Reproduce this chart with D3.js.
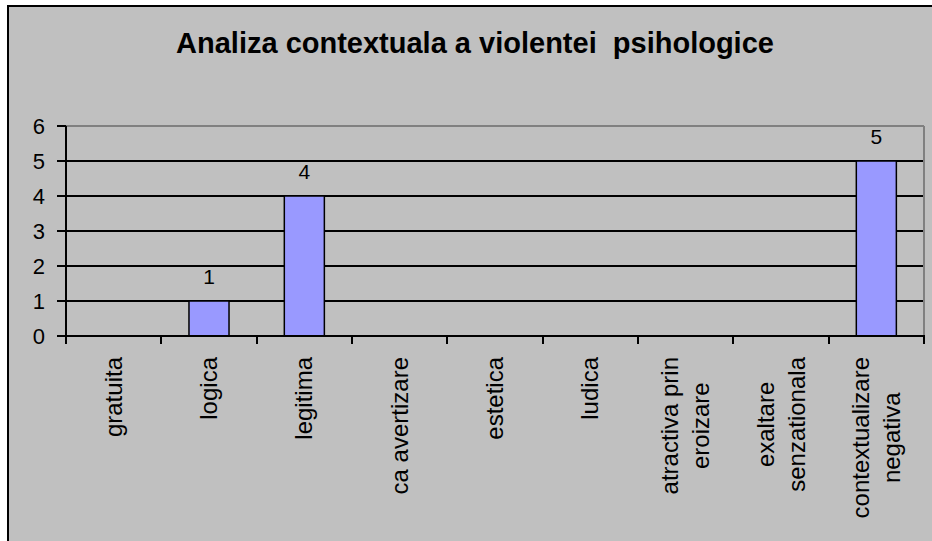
<!DOCTYPE html>
<html lang="ro">
<head>
  <meta charset="UTF-8">
  <title>Analiza contextuala a violentei psihologice</title>
  <script src="https://cdn.jsdelivr.net/npm/d3@7"></script>
</head>

<style>
body { margin: 0; background: #fff; }
svg { display: block; font-family: Arial, "Liberation Sans", sans-serif; }
line { shape-rendering: crispEdges; }
</style>

<body>
  <svg width="932" height="541"></svg>

  <script>
    // values
    var categories = ["gratuita", "logica", "legitima", "ca avertizare", "estetica", "ludica",
                      "atractiva prin\neroizare", "exaltare\nsenzationala", "contextualizare\nnegativa"]
    var values = [0, 1, 4, 0, 0, 0, 0, 0, 5]
    var yTicks = [0, 1, 2, 3, 4, 5, 6]
    var title = "Analiza contextuala a violentei  psihologice"

    var bars = categories.map((c, i) => ({cat: c, value: values[i]}))
      .filter(d => d.value > 0)

    var svg = d3.select('svg')

    // grey chart area with black frame (left + top visible)
    svg.append('rect')
      .attr('x', 8).attr('y', 6)
      .attr('width', 1000).attr('height', 1000)
      .attr('fill', '#c0c0c0')
      .attr('stroke', '#000')
      .attr('stroke-width', 2)

    svg.append('text')
      .attr('x', 475).attr('y', 53)
      .attr('text-anchor', 'middle')
      .style('white-space', 'pre')
      .style('font-size', '29px')
      .style('font-weight', 'bold')
      .text(title)

    var x = d3.scaleBand()
      .domain(categories)
      .range([66, 924])
      .paddingInner(0.58)
      .paddingOuter(0.29)

    var y = d3.scaleLinear()
      .domain([0, 6])
      .range([336, 126])

    var step = x.step()
    var left = 66, right = 924

    // gridlines
    svg.append('g')
      .selectAll('line')
      .data(yTicks.filter(d => d > 0))
      .enter()
      .append('line')
      .attr('x1', left).attr('x2', right)
      .attr('y1', d => Math.round(y(d)))
      .attr('y2', d => Math.round(y(d)))
      .attr('stroke', d => d == 6 ? '#808080' : '#000')
      .attr('stroke-width', 1.5)

    // plot area right edge
    svg.append('line')
      .attr('x1', right).attr('x2', right)
      .attr('y1', y(6)).attr('y2', y(0))
      .attr('stroke', '#808080')
      .attr('stroke-width', 1.5)

    // bars
    svg.append('g')
      .selectAll('rect')
      .data(bars)
      .enter()
      .append('rect')
      .attr('x', d => x(d.cat))
      .attr('y', d => y(d.value))
      .attr('width', x.bandwidth())
      .attr('height', d => y(0) - y(d.value))
      .attr('fill', '#9999ff')
      .attr('stroke', '#000')
      .attr('stroke-width', 1.5)

    // value labels
    svg.append('g')
      .selectAll('text')
      .data(bars)
      .enter()
      .append('text')
      .attr('x', d => x(d.cat) + x.bandwidth() / 2)
      .attr('y', d => y(d.value) - 17)
      .attr('text-anchor', 'middle')
      .style('font-size', '21px')
      .text(d => d.value)

    // y axis
    var yAxis = svg.append('g')
    yAxis.append('line')
      .attr('x1', left).attr('x2', left)
      .attr('y1', y(6)).attr('y2', y(0))
      .attr('stroke', '#000').attr('stroke-width', 2)
    yAxis.selectAll('line.tick')
      .data(yTicks)
      .enter()
      .append('line')
      .attr('class', 'tick')
      .attr('x1', 57).attr('x2', left)
      .attr('y1', d => Math.round(y(d)))
      .attr('y2', d => Math.round(y(d)))
      .attr('stroke', '#000').attr('stroke-width', 2)
    yAxis.selectAll('text')
      .data(yTicks)
      .enter()
      .append('text')
      .attr('x', 45)
      .attr('y', d => y(d) + 8)
      .attr('text-anchor', 'end')
      .style('font-size', '22px')
      .text(d => d)

    // x axis
    var xAxis = svg.append('g')
    xAxis.append('line')
      .attr('x1', left - 1).attr('x2', right + 1)
      .attr('y1', y(0)).attr('y2', y(0))
      .attr('stroke', '#000').attr('stroke-width', 2)
    xAxis.selectAll('line.tick')
      .data(d3.range(categories.length + 1))
      .enter()
      .append('line')
      .attr('class', 'tick')
      .attr('x1', i => left + i * step).attr('x2', i => left + i * step)
      .attr('y1', y(0)).attr('y2', y(0) + 8)
      .attr('stroke', '#000').attr('stroke-width', 2)

    // rotated category labels, multi-line ones centred on each other
    var lineH = 31
    var labels = xAxis.selectAll('g.label')
      .data(categories)
      .enter()
      .append('g')
      .attr('class', 'label')
      .attr('transform', d => 'translate(' + (x(d) + x.bandwidth() / 2) + ',357) rotate(-90)')

    labels.each(function(d) {
      var g = d3.select(this)
      var lines = d.split('\n')
      var texts = lines.map((s, k) => g.append('text')
        .attr('text-anchor', 'middle')
        .attr('y', (k - (lines.length - 1) / 2) * lineH + 8)
        .style('font-size', '24px')
        .text(s))
      var L = d3.max(texts, t => t.node().getComputedTextLength())
      texts.forEach(t => t.attr('x', -L / 2))
    })
  </script>

</body>
</html>
